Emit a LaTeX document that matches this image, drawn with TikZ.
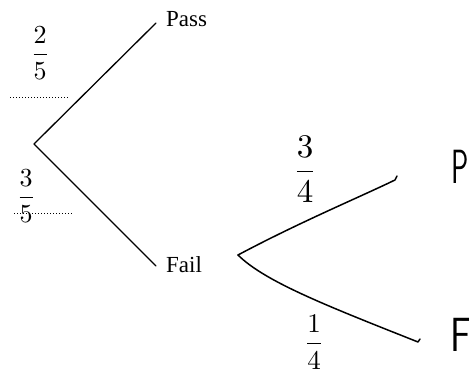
\documentclass[tikz,border=0pt]{standalone}
\usepackage{fontspec}
\setmainfont{Liberation Serif}
\newcommand\bigfr[3]{\scalebox{#1}{$\displaystyle\frac{#2}{#3}$}}
\begin{document}
\begin{tikzpicture}[x=1pt,y=1pt,
  branch/.style={line width=1.3pt, line cap=round},
  hand/.style={line width=1.5pt, line cap=round, line join=round},
  guide/.style={dotted, line width=1pt},
  lbl/.style={font=\fontsize{23}{26}\selectfont, inner sep=0pt, anchor=west},
  frac/.style={inner sep=0pt},
  letter/.style={font=\sffamily\fontsize{48}{52}\selectfont, inner sep=0pt}
]
\useasboundingbox (0,0) rectangle (475,382);
% first stage
\coordinate (A) at (34,238);
\coordinate (passend) at (156,359);
\coordinate (failend) at (156,116);
\node[lbl] (pass) at (166,363) {Pass};
\node[lbl] (fail) at (166,117) {Fail};
\draw[branch] (A) -- (passend);
\draw[branch] (A) -- (failend);
% dotted guides
\coordinate (d1a) at (10,284); \coordinate (d1b) at (68,284);
\coordinate (d2a) at (14,168); \coordinate (d2b) at (72,168);
\draw[guide] (d1a) -- (d1b);
\draw[guide] (d2a) -- (d2b);
% fractions first stage
\node[frac] (f25) at (40,329) {\bigfr{2.6}{2}{5}};
\node[frac] (f35) at (26,186) {\bigfr{2.6}{3}{5}};
% second stage
\coordinate (B) at (238,127);
\coordinate (pend) at (395,202);
\coordinate (fend) at (418,40);
\draw[hand] (B) .. controls (300,160) and (360,185) .. (pend) -- ++(2,4);
\draw[hand] (B) .. controls (265,100) and (330,75) .. (fend) -- ++(2,3);
\node[frac] (f34) at (305,213) {\bigfr{3.3}{3}{4}};
\node[frac] (f14) at (314,40) {\bigfr{2.7}{1}{4}};
\node[letter, xscale=0.6, transform shape] (P) at (460,215) {P};
\node[letter, xscale=0.8, transform shape] (F) at (461,47) {F};
\end{tikzpicture}
\end{document}
